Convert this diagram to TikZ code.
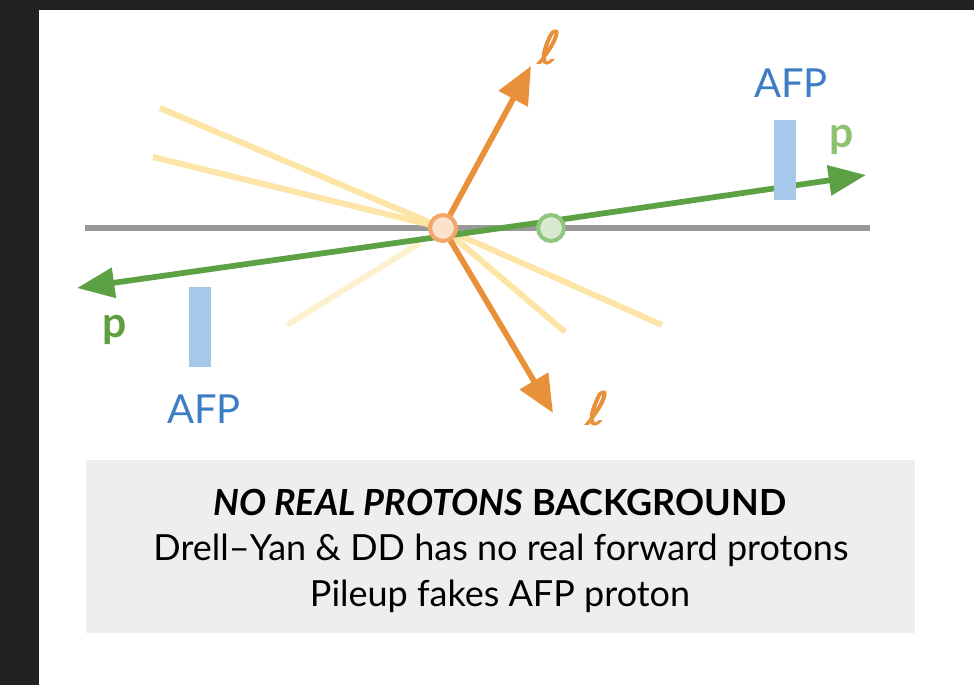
\documentclass[tikz,border=0pt]{standalone}
\usepackage{fontspec}
\setmainfont{Lato}
\newfontfamily\ellfont[FakeSlant=0.15,FakeBold=2]{DejaVu Sans}
\usetikzlibrary{arrows.meta}
\definecolor{frame}{HTML}{222222}
\definecolor{axis}{HTML}{999999}
\definecolor{lep}{HTML}{E9913A}
\definecolor{vtxo}{HTML}{F2A66A}
\definecolor{vtxofill}{HTML}{FCE1CB}
\definecolor{prot}{HTML}{5DA145}
\definecolor{vtxg}{HTML}{8FC57F}
\definecolor{vtxgfill}{HTML}{D8EBD2}
\definecolor{pu}{HTML}{FDE39E}
\definecolor{afptext}{HTML}{3D7DC4}
\definecolor{afpbox}{HTML}{A6C9EA}
\definecolor{boxfill}{HTML}{EEEEEE}
\definecolor{plight}{HTML}{8DC26F}
\definecolor{pdark}{HTML}{5E9F3F}
\tikzset{
  pileup/.style={pu, line width=4.5pt, line cap=butt},
  leparrow/.style={lep, line width=4.3pt, -{Triangle[length=28pt,width=24pt]}},
  protarrow/.style={prot, line width=4.3pt, -{Triangle[length=28pt,width=22pt]}},
  vtx/.style={circle, minimum size=19.5pt, inner sep=0pt, line width=3pt},
  afpdet/.style={fill=afpbox, draw=none, minimum width=17pt, minimum height=60pt, inner sep=0pt},
  afplabel/.style={afptext, font=\fontsize{30}{32}\selectfont, inner sep=0pt},
  plabel/.style={font=\fontsize{32}{34}\selectfont\bfseries, inner sep=0pt},
  llabel/.style={lep, font=\ellfont\fontsize{34}{36}\selectfont, inner sep=0pt},
  boxline/.style={font=\fontsize{27}{29}\selectfont, inner sep=0pt, text=black}
}
\begin{document}
\begin{tikzpicture}[x=0.75pt, y=-0.75pt]
\useasboundingbox (0,0) rectangle (974,685);
\fill[frame] (0,0) rectangle (974,685);
\fill[white] (39,10) rectangle (974,685);

% beam axis
\coordinate (axL) at (85,228);
\coordinate (axR) at (870,228);
\draw[axis, line width=3.8pt] (axL) -- (axR);

% vertices
\coordinate (vo) at (443,228);
\coordinate (vg) at (551,228);

% pileup lines
\coordinate (pu1) at (160,108);
\coordinate (pu2) at (153,157);
\coordinate (pu3) at (287,325);
\coordinate (pu3b) at (420,243);
\coordinate (pu4) at (565,332);
\coordinate (pu5) at (662,325);
\draw[pileup, opacity=0.9] (pu1) -- (vo);
\draw[pileup, opacity=0.9] (pu2) -- (vo);
\draw[pileup, opacity=0.5] (pu3) -- (pu3b);
\draw[pileup, opacity=0.9] (vo) -- (pu4);
\draw[pileup, opacity=0.9] (vo) -- (pu5);

% proton line
\coordinate (pL) at (77,288);
\coordinate (pR) at (866,175);
\coordinate (pM) at (551,221);
\draw[protarrow] (pM) -- (pR);
\draw[protarrow] (pM) -- (pL);

% lepton arrows
\coordinate (lU) at (531,66);
\coordinate (lD) at (553,413);
\draw[leparrow] (vo) -- (lU);
\draw[leparrow] (vo) -- (lD);

% vertex markers
\node[vtx, draw=vtxo, fill=vtxofill] (vtxO) at (vo) {};
\node[vtx, draw=vtxg, fill=vtxgfill] (vtxG) at (vg) {};

% lepton labels
\node[llabel] (ellU) at (547,47) {ℓ};
\node[llabel] (ellD) at (595,408) {ℓ};

% AFP detectors
\node[afpdet] (afpR) at (785,160) {};
\node[afpdet] (afpL) at (200,327) {};
\node[afplabel] (afpRt) at (791,83) {AFP};
\node[afplabel] (afpLt) at (204,409) {AFP};

% proton labels
\node[plabel, plight] (pRt) at (842,140) {p};
\node[plabel, pdark] (pLt) at (115,330) {p};

% caption box
\fill[boxfill] (86,460) rectangle (915,633);
\node[boxline] (c1) at (500,502) {\textbf{\textit{NO REAL PROTONS}} \textbf{BACKGROUND}};
\node[boxline] (c2) at (501,550) {Drell–Yan \& DD has no real forward protons};
\node[boxline] (c3) at (500,596) {Pileup fakes AFP proton};
\end{tikzpicture}
\end{document}
